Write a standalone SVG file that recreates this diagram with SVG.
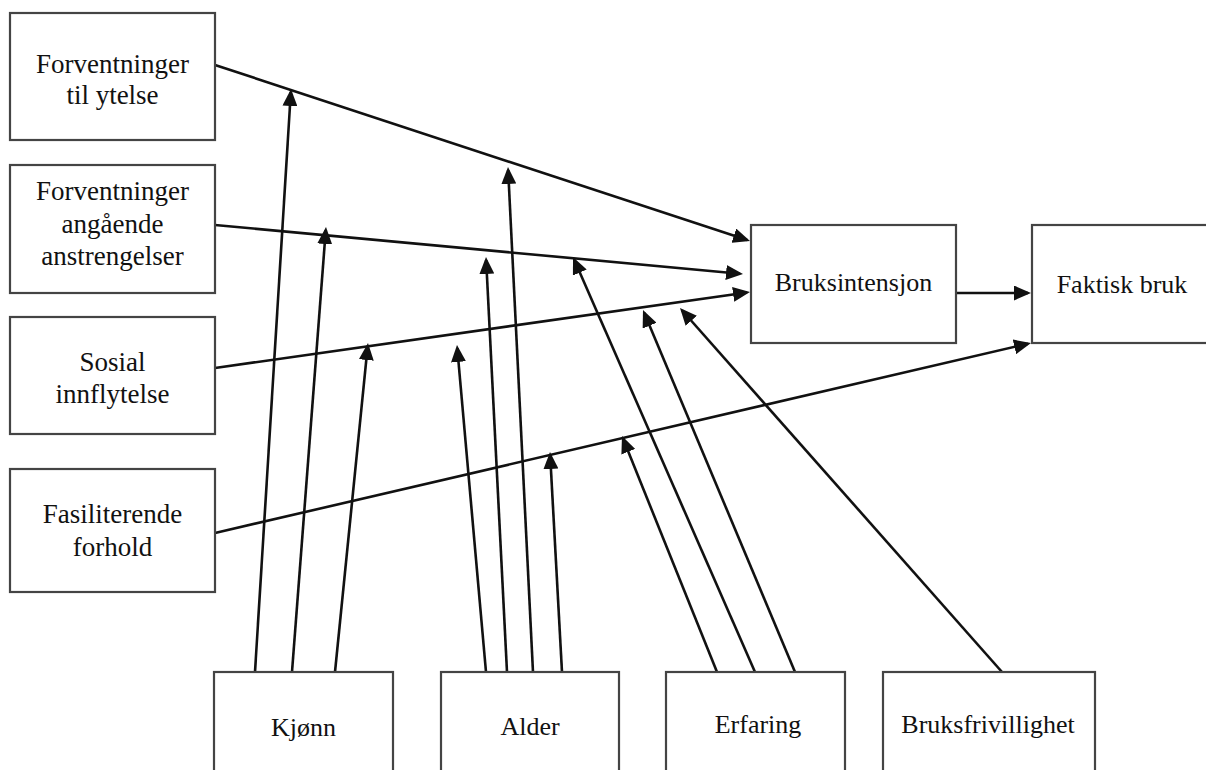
<svg xmlns="http://www.w3.org/2000/svg" width="1206" height="770" viewBox="0 0 1206 770">
  <defs>
    <style>
      .box { fill: #ffffff; stroke: #444444; stroke-width: 2.2; }
      .lbl { font-family: "Liberation Serif", "Times New Roman", serif; font-size: 26px; fill: #111111; text-anchor: middle; }
      .lbl-l { font-size: 27px; }
      .con { stroke: #111111; stroke-width: 2.6; fill: none; marker-end: url(#arrow); }
    </style>
    <marker id="arrow" viewBox="0 0 17 15" markerWidth="17" markerHeight="15" refX="14" refY="7.5" markerUnits="userSpaceOnUse" orient="auto">
      <path d="M0,0 L17,7.5 L0,15 Z" fill="#111111"/>
    </marker>
  </defs>
  <rect width="1206" height="770" fill="#ffffff"/>

  <g id="connectors">
    <line class="con" x1="215" y1="65" x2="747.15" y2="240.06"/>
    <line class="con" x1="215" y1="225" x2="740.01" y2="273.72"/>
    <line class="con" x1="215" y1="368" x2="747.03" y2="292.42"/>
    <line class="con" x1="215" y1="533" x2="1028.08" y2="343.68"/>
    <line class="con" x1="956" y1="293" x2="1028" y2="293"/>
    <line class="con" x1="255" y1="672" x2="290.82" y2="91.99"/>
    <line class="con" x1="292" y1="672" x2="325.77" y2="229.99"/>
    <line class="con" x1="335" y1="672" x2="367.70" y2="345.99"/>
    <line class="con" x1="486" y1="672" x2="457.26" y2="347.99"/>
    <line class="con" x1="507" y1="672" x2="486.15" y2="259.99"/>
    <line class="con" x1="533" y1="672" x2="508.15" y2="169.99"/>
    <line class="con" x1="562" y1="672" x2="550.16" y2="454.99"/>
    <line class="con" x1="717" y1="672" x2="623.12" y2="438.78"/>
    <line class="con" x1="755" y1="672" x2="574.2" y2="259.75"/>
    <line class="con" x1="795" y1="672" x2="644.16" y2="312.77"/>
    <line class="con" x1="1002" y1="672" x2="681.99" y2="310.25"/>
  </g>

  <g id="node-forventninger-ytelse">
    <rect class="box" x="10" y="13" width="205" height="127"/>
    <text class="lbl lbl-l" x="112.5" y="73">Forventninger</text>
    <text class="lbl lbl-l" x="112.5" y="104">til ytelse</text>
  </g>
  <g id="node-forventninger-anstrengelser">
    <rect class="box" x="10" y="165" width="205" height="128"/>
    <text class="lbl lbl-l" x="112.5" y="200">Forventninger</text>
    <text class="lbl lbl-l" x="112.5" y="233">angående</text>
    <text class="lbl lbl-l" x="112.5" y="265">anstrengelser</text>
  </g>
  <g id="node-sosial">
    <rect class="box" x="10" y="317" width="205" height="117"/>
    <text class="lbl lbl-l" x="112.5" y="371">Sosial</text>
    <text class="lbl lbl-l" x="112.5" y="403">innflytelse</text>
  </g>
  <g id="node-fasiliterende">
    <rect class="box" x="10" y="469" width="205" height="123"/>
    <text class="lbl lbl-l" x="112.5" y="523">Fasiliterende</text>
    <text class="lbl lbl-l" x="112.5" y="556">forhold</text>
  </g>
  <g id="node-bruksintensjon">
    <rect class="box" x="751" y="225" width="205" height="118"/>
    <text class="lbl" x="853.5" y="291">Bruksintensjon</text>
  </g>
  <g id="node-faktisk-bruk">
    <rect class="box" x="1032" y="225" width="180" height="118"/>
    <text class="lbl" x="1122" y="293">Faktisk bruk</text>
  </g>
  <g id="node-kjonn">
    <rect class="box" x="214" y="672" width="179" height="130"/>
    <text class="lbl" x="303.5" y="736">Kjønn</text>
  </g>
  <g id="node-alder">
    <rect class="box" x="441" y="672" width="178" height="130"/>
    <text class="lbl" x="530" y="735">Alder</text>
  </g>
  <g id="node-erfaring">
    <rect class="box" x="666" y="672" width="179" height="130"/>
    <text class="lbl" x="758" y="733">Erfaring</text>
  </g>
  <g id="node-bruksfrivillighet">
    <rect class="box" x="883" y="672" width="212" height="130"/>
    <text class="lbl" x="988" y="733">Bruksfrivillighet</text>
  </g>
</svg>
